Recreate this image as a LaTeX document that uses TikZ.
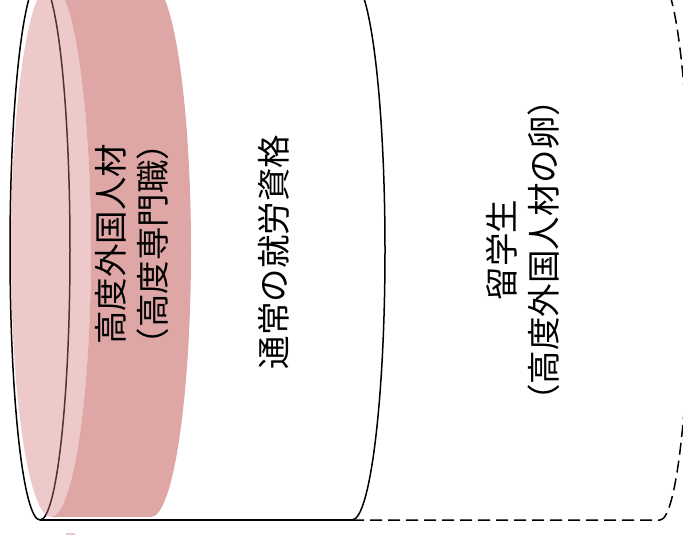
\documentclass[tikz,border=0pt]{standalone}
\usepackage{fontspec}
\newfontfamily\cjk{Noto Sans CJK JP}
\definecolor{pinkbody}{RGB}{175,33,33}
\definecolor{pinkface}{RGB}{210,120,120}
\begin{document}
\begin{tikzpicture}[x=1pt,y=1pt,
  outline/.style={line width=1.5pt, draw=black},
  dashline/.style={outline, dash pattern=on 12pt off 6pt},
  cjklabel/.style={font=\cjk\fontsize{33.5}{42}\selectfont, align=center, inner sep=0pt, rotate=90, text=black},
  pinkfill/.style={fill opacity=0.4}]
\useasboundingbox (0,0) rectangle (683,539);
\clip (0,0) rectangle (683,539);
% common left face of the cylinders
\coordinate (leftc) at (40,289);
\coordinate (bl) at (40,19);
\coordinate (mid) at (352,19);
\coordinate (outer) at (660,19);
\draw[outline] (leftc) ellipse [x radius=30, y radius=270];
% middle cylinder (solid)
\draw[outline] (bl) -- (mid);
\draw[outline] (mid) arc[start angle=-90, end angle=90, x radius=33, y radius=270];
% outer cylinder (dashed)
\draw[dashline] (mid) -- (outer) arc[start angle=-90, end angle=90, x radius=30, y radius=270];
% inner pink cylinder
\fill[pinkbody, pinkfill] (51,556) arc[start angle=90, end angle=-90, x radius=40, y radius=267]
  -- (151,22) arc[start angle=-90, end angle=90, x radius=40, y radius=267] -- cycle;
\fill[pinkface, pinkfill] (51,289) ellipse [x radius=40, y radius=267];
\draw[pinkface, pinkfill, draw opacity=0.4, line width=1.5pt] (66,5) -- (75,5);
% labels
\node[cjklabel] (hsp) at (132,295) {高度外国人材\\（高度専門職）};
\node[cjklabel] (work) at (274,287) {通常の就労資格};
\node[cjklabel] (stud) at (523,289) {留学生\\（高度外国人材の卵）};
\end{tikzpicture}
\end{document}
